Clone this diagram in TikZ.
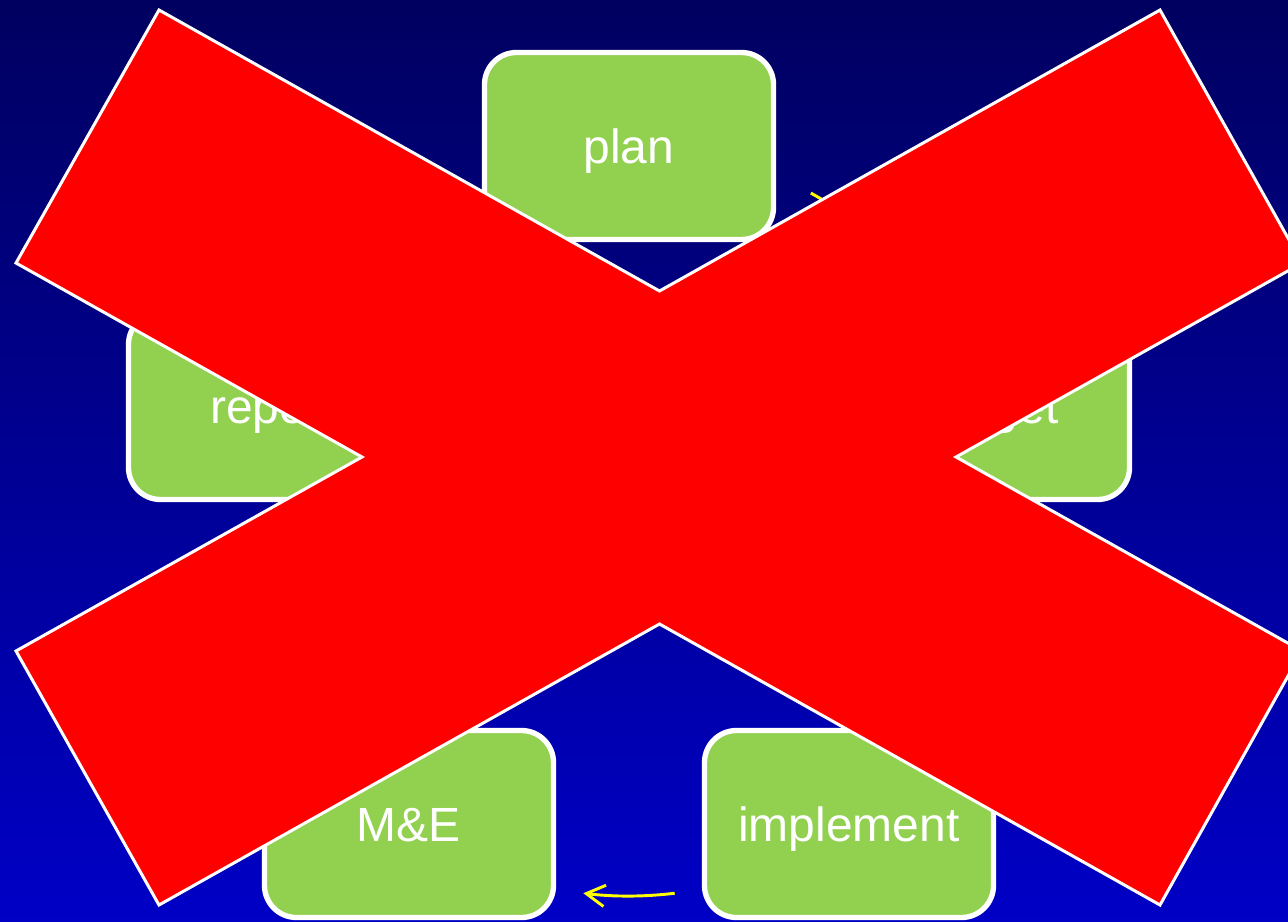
\documentclass[tikz,border=0pt]{standalone}
\usepackage{fontspec}
\setmainfont{Liberation Sans}
\usetikzlibrary{arrows.meta,calc}
\definecolor{stagegreen}{HTML}{92D050}
\definecolor{bgtop}{HTML}{000060}
\definecolor{bgbottom}{HTML}{0000C6}
\definecolor{arrowyellow}{HTML}{FFFF00}
\definecolor{crossred}{HTML}{FF0000}
\tikzset{
  stage/.style={draw=white, line width=4pt, fill=stagegreen, rounded corners=24pt,
    minimum width=216.75pt, minimum height=140.25pt, inner sep=0pt, text=white,
    font=\fontsize{36}{40}\selectfont, text height=25.5pt, text depth=0pt},
  cyclearrow/.style={draw=arrowyellow, line width=2.2pt,
    -{Straight Barb[length=14pt,width=16pt,line width=2.2pt]}},
  cross/.style={draw=white, line width=2.25pt, fill=crossred, line join=miter}
}
\begin{document}
\begin{tikzpicture}[x=0.75pt,y=-0.75pt]
\useasboundingbox (0,0) rectangle (1288,921);
\shade[top color=bgtop, bottom color=bgbottom] (0,0) rectangle (1288,921);
\coordinate (O) at (629,521);
% cycle arrows
\draw[cyclearrow] ([shift={(-61:375)}]O) arc[start angle=-61, end angle=-47, radius=375];
\draw[cyclearrow] ([shift={(11:375)}]O) arc[start angle=11, end angle=25, radius=375];
\draw[cyclearrow] ([shift={(83:375)}]O) arc[start angle=83, end angle=97, radius=375];
\draw[cyclearrow] ([shift={(155:375)}]O) arc[start angle=155, end angle=169, radius=375];
\draw[cyclearrow] ([shift={(227:375)}]O) arc[start angle=227, end angle=241, radius=375];
% stages
\node[stage] (plan) at (629,146) {plan};
\node[stage] (budget) at (985,406) {budget};
\node[stage] (implement) at (849,824) {implement};
\node[stage] (me) at (409,824) {M\&E};
\node[stage] (report) at (273,406) {report};
% red cross
\draw[cross] (159,10) -- (659.5,291) -- (1160,10) -- (1302,263) -- (956,457)
  -- (1302,651) -- (1160,905) -- (659.5,624) -- (159,905) -- (16,651)
  -- (362,457) -- (16,263) -- cycle;
\end{tikzpicture}
\end{document}
